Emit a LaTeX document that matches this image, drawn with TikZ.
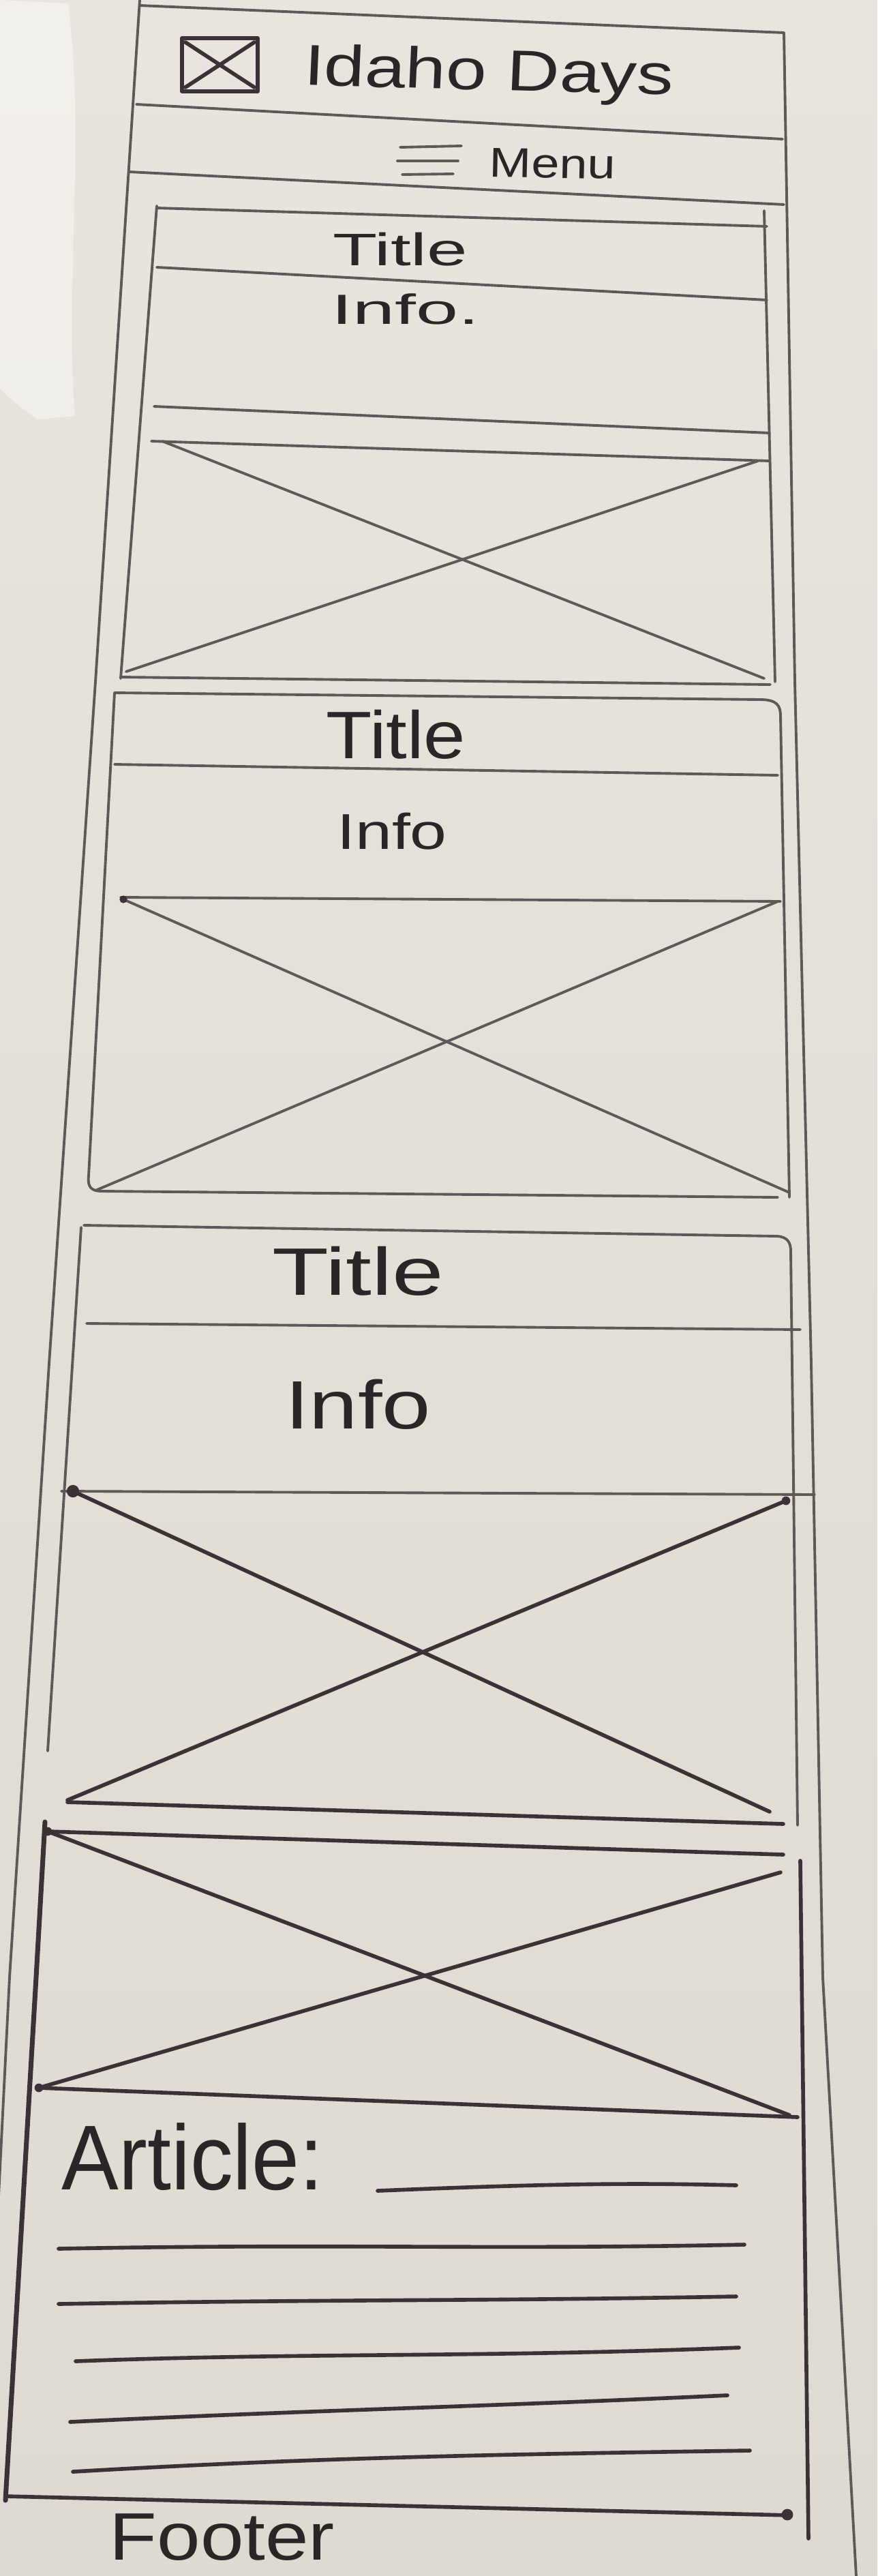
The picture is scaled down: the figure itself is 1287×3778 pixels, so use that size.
\documentclass[tikz,border=0pt]{standalone}
\usepackage{fontspec}
\setmainfont{Liberation Sans}
\definecolor{paper}{HTML}{E9E5DE}
\definecolor{paperlow}{HTML}{DEDAD1}
\definecolor{pencil}{HTML}{5E5858}
\definecolor{ink}{HTML}{3A3236}
\definecolor{textc}{HTML}{2B2527}
\tikzset{
  pline/.style={draw=pencil, line width=1.1pt, line cap=round, line join=round},
  dline/.style={draw=ink, line width=1.6pt, line cap=round, line join=round},
  hand/.style={inner sep=0pt, text=textc, transform shape, anchor=base},
  dotmark/.style={fill=ink},
}
\begin{document}
\begin{tikzpicture}[x=0.01cm,y=-0.01cm]
\useasboundingbox (0,0) rectangle (1287,3778);
\shade[top color=paper, bottom color=paperlow] (0,0) rectangle (1287,3778);
% pale scrap at the left edge
\fill[white, opacity=0.4] (0,0) -- (100,5) .. controls (125,200) and (95,420) .. (110,610) -- (55,615) .. controls (20,590) and (10,580) .. (0,570) -- cycle;

% ---------- outer frame ----------
\draw[pline] (205,0) -- (140,1000) -- (72,2000) -- (14,2900) -- (-6,3300);
\draw[pline] (205,8) -- (1150,48);
\draw[pline] (1150,48) -- (1166,1000) -- (1190,2000) -- (1207,2900) -- (1256,3778);
\draw[pline] (200,153) -- (1148,204);
\draw[pline] (189,252) -- (1150,300);

% logo
\draw[dline] (267,56) rectangle (378,134);
\draw[dline] (272,62) -- (373,128);
\draw[dline] (373,62) -- (272,128);
\node[hand, font=\fontsize{24}{28}\selectfont, xscale=1.27, rotate=-2] (site) at (716,132) {Idaho Days};

% menu
\draw[pline] (587,216) -- (677,214);
\draw[pline] (583,236) -- (672,236);
\draw[pline] (590,256) -- (665,255);
\node[hand, font=\fontsize{17.4}{20}\selectfont, xscale=1.21, rotate=-1] (menu) at (810,261) {Menu};

% ---------- card 1 ----------
\draw[pline] (230,302) -- (177,995);
\draw[pline] (230,305) -- (1125,332);
\draw[pline] (1121,309) -- (1137,1000);
\draw[pline] (230,392) -- (1125,440);
\draw[pline] (226,596) -- (1129,635);
\draw[pline] (222,647) -- (1129,676);
\draw[pline] (238,647) -- (1121,995);
\draw[pline] (1112,676) -- (185,985);
\draw[pline] (177,993) -- (1130,1004);
\node[hand, font=\fontsize{19}{22}\selectfont, xscale=1.6] (t1) at (587,389) {Title};
\node[hand, font=\fontsize{17.6}{20}\selectfont, xscale=1.8] (i1) at (595,475) {Info.};

% ---------- card 2 ----------
\draw[pline] (168,1016) -- (1115,1026) .. controls (1140,1026) and (1145,1035) .. (1145,1050) -- (1158,1756);
\draw[pline] (168,1016) -- (130,1725) .. controls (128,1742) and (135,1747) .. (150,1747) -- (1141,1756);
\draw[pline] (168,1121) -- (1141,1137);
\draw[pline] (177,1316) -- (1145,1322);
\draw[pline] (181,1319) -- (1158,1749);
\draw[pline] (1141,1322) -- (140,1746);
\fill[dotmark] (181,1319) circle (1.6pt);
\node[hand, font=\fontsize{28}{32}\selectfont, xscale=1.12] (t2) at (581,1112) {Title};
\node[hand, font=\fontsize{21}{24}\selectfont, xscale=1.31] (i2) at (575,1245) {Info};

% ---------- card 3 ----------
\draw[pline] (123,1797) -- (1140,1813) .. controls (1155,1814) and (1160,1822) .. (1160,1835) -- (1170,2677);
\draw[pline] (119,1800) -- (70,2568);
\draw[pline] (127,1941) -- (1174,1950);
\draw[pline] (90,2187) -- (1195,2192);
\draw[dline] (107,2187) -- (1129,2657);
\draw[dline] (1153,2201) -- (99,2640);
\draw[dline] (99,2643) -- (1149,2675);
\fill[dotmark] (107,2187) circle (2.6pt);
\fill[dotmark] (1153,2201) circle (1.8pt);
\node[hand, font=\fontsize{28}{32}\selectfont, xscale=1.38] (t3) at (525,1899) {Title};
\node[hand, font=\fontsize{28.5}{32}\selectfont, xscale=1.28] (i3) at (525,2095) {Info};

% ---------- card 4 ----------
\draw[dline] (70,2686) -- (1149,2720);
\draw[dline, line width=2pt] (66,2672) -- (53,2900) -- (8,3667);
\draw[dline] (1174,2729) -- (1186,3723);
\draw[dline] (70,2686) -- (1158,3102);
\draw[dline] (1145,2746) -- (57,3062);
\draw[dline] (57,3062) -- (1170,3105);
\fill[dotmark] (70,2686) circle (1.8pt);
\fill[dotmark] (57,3062) circle (1.8pt);
\node[hand, anchor=base west, font=\fontsize{38.4}{42}\selectfont, xscale=0.93] (art) at (90,3211) {Article:};
\draw[dline] (554,3213) .. controls (750,3205) and (900,3200) .. (1080,3205);
\draw[dline] (86,3298) .. controls (500,3290) and (700,3300) .. (1092,3292);
\draw[dline] (86,3379) .. controls (500,3372) and (700,3375) .. (1080,3368);
\draw[dline] (111,3463) .. controls (450,3450) and (700,3458) .. (1084,3443);
\draw[dline] (103,3552) .. controls (450,3535) and (700,3530) .. (1067,3513);
\draw[dline] (107,3625) .. controls (450,3605) and (700,3600) .. (1100,3594);
\draw[dline] (8,3661) -- (1160,3689);
\fill[dotmark] (1155,3688) circle (2.4pt);
\node[hand, anchor=base west, font=\fontsize{28}{32}\selectfont, xscale=1.16] (foot) at (160,3754) {Footer};
\end{tikzpicture}
\end{document}
